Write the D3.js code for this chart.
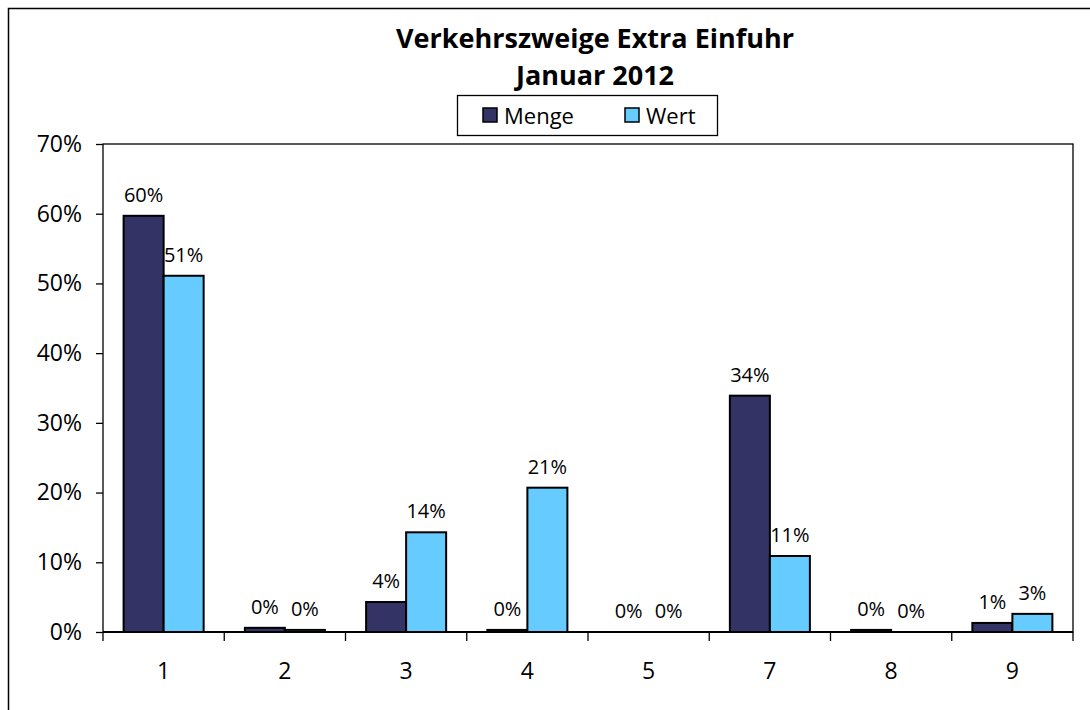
<!DOCTYPE html>
<html>
  <head>
    <script type="text/javascript" src="https://cdn.jsdelivr.net/npm/d3@7"></script>
    <style>
      body {
        margin: 0;
        background: #fff;
      }
      .chart text {
        font-family: 'Open Sans', 'Noto Sans', sans-serif;
        fill: #000;
      }
      .axis path,
      .axis line {
        fill: none;
        stroke: #000;
        stroke-width: 1.3px;
      }
      .axis text {
        font-size: 23px;
      }
      .bar {
        stroke: #000;
        stroke-width: 2px;
      }
      .lbl {
        font-size: 20px;
      }
    </style>
  </head>
  <body>
    <svg class="chart"></svg>

    <script type="text/javascript">
      // data
      var categories = ['1', '2', '3', '4', '5', '7', '8', '9'];
      var seriesNames = ['Menge', 'Wert'];
      var menge = [59.7, 0.6, 4.3, 0.3, 0, 33.9, 0.3, 1.3];
      var wert = [51.1, 0.3, 14.3, 20.7, 0, 10.9, 0, 2.6];
      var mengeLabels = ['60%', '0%', '4%', '0%', '0%', '34%', '0%', '1%'];
      var wertLabels = ['51%', '0%', '14%', '21%', '0%', '11%', '0%', '3%'];
      var yTicks = [0, 10, 20, 30, 40, 50, 60, 70];
      var titleLines = ['Verkehrszweige Extra Einfuhr', 'Januar 2012'];
      var colors = ['#333366', '#66ccff'];

      var svgWidth = 1090,
        svgHeight = 710;
      var margin = { left: 103, top: 144, right: 17, bottom: 78 };
      var width = svgWidth - margin.left - margin.right;
      var height = svgHeight - margin.top - margin.bottom;

      var svg = d3
        .select('svg')
        .attr('width', svgWidth)
        .attr('height', svgHeight);

      // outer frame (runs off the bottom/right edge)
      svg
        .append('rect')
        .attr('x', 8.5)
        .attr('y', 8.5)
        .attr('width', svgWidth + 20)
        .attr('height', svgHeight + 20)
        .attr('fill', 'none')
        .attr('stroke', '#000')
        .attr('stroke-width', 1.5);

      var g = svg
        .append('g')
        .attr('transform', 'translate(' + margin.left + ',' + margin.top + ')');

      var x0 = d3.scaleBand().domain(categories).range([0, width]);
      var x1 = d3
        .scaleBand()
        .domain(seriesNames)
        .range([x0.bandwidth() * 0.17, x0.bandwidth() * 0.83]);
      var y = d3.scaleLinear().domain([0, 70]).range([height, 0]);

      // plot area border
      g.append('rect')
        .attr('width', width)
        .attr('height', height)
        .attr('fill', 'none')
        .attr('stroke', '#000')
        .attr('stroke-width', 1.3);

      // y axis
      g.append('g')
        .attr('class', 'axis')
        .call(
          d3
            .axisLeft(y)
            .tickValues(yTicks)
            .tickSize(7)
            .tickPadding(14)
            .tickFormat(function (d) {
              return d + '%';
            })
        )
        .call(function (a) {
          a.select('.domain').remove();
        });

      // x axis: ticks between categories
      var xAxis = g
        .append('g')
        .attr('class', 'axis')
        .attr('transform', 'translate(0,' + height + ')')
        .call(d3.axisBottom(x0).tickSize(0).tickPadding(31));
      xAxis.select('.domain').remove();
      xAxis
        .selectAll('.sep')
        .data(categories.concat(['end']))
        .enter()
        .append('line')
        .attr('x1', function (d, i) {
          return i * x0.step();
        })
        .attr('x2', function (d, i) {
          return i * x0.step();
        })
        .attr('y1', 0)
        .attr('y2', 9);

      var rows = categories.map(function (c, i) {
        return {
          cat: c,
          vals: [
            { s: 'Menge', v: menge[i], l: mengeLabels[i], c: colors[0] },
            { s: 'Wert', v: wert[i], l: wertLabels[i], c: colors[1] },
          ],
        };
      });

      var grp = g
        .selectAll('.grp')
        .data(rows)
        .enter()
        .append('g')
        .attr('class', 'grp')
        .attr('transform', function (d) {
          return 'translate(' + x0(d.cat) + ',0)';
        });

      grp
        .selectAll('rect')
        .data(function (d) {
          return d.vals.filter(function (v) {
            return v.v > 0;
          });
        })
        .enter()
        .append('rect')
        .attr('class', 'bar')
        .attr('x', function (d) {
          return x1(d.s);
        })
        .attr('y', function (d) {
          return y(d.v);
        })
        .attr('width', x1.bandwidth())
        .attr('height', function (d) {
          return height - y(d.v);
        })
        .attr('fill', function (d) {
          return d.c;
        });

      grp
        .selectAll('.lbl')
        .data(function (d) {
          return d.vals;
        })
        .enter()
        .append('text')
        .attr('class', 'lbl')
        .attr('text-anchor', 'middle')
        .attr('x', function (d) {
          return x1(d.s) + x1.bandwidth() / 2;
        })
        .attr('y', function (d) {
          return y(d.v) - 14;
        })
        .text(function (d) {
          return d.l;
        });

      // x axis baseline over the bars
      g.append('line')
        .attr('x1', 0)
        .attr('x2', width)
        .attr('y1', height)
        .attr('y2', height)
        .attr('stroke', '#000')
        .attr('stroke-width', 2);

      // title
      svg
        .selectAll('.title')
        .data(titleLines)
        .enter()
        .append('text')
        .attr('class', 'title')
        .attr('x', 595)
        .attr('y', function (d, i) {
          return 48 + i * 37;
        })
        .attr('text-anchor', 'middle')
        .style('font-size', '27px')
        .style('font-weight', 'bold')
        .text(function (d) {
          return d;
        });

      // legend
      var legend = svg.append('g').attr('transform', 'translate(457,95)');
      legend
        .append('rect')
        .attr('x', 0.5)
        .attr('y', 0.5)
        .attr('width', 260)
        .attr('height', 40)
        .attr('fill', '#fff')
        .attr('stroke', '#000')
        .attr('stroke-width', 1.3);
      var item = legend
        .selectAll('.item')
        .data(seriesNames)
        .enter()
        .append('g')
        .attr('transform', function (d, i) {
          return 'translate(' + (26 + i * 142) + ',0)';
        });
      item
        .append('rect')
        .attr('y', 13)
        .attr('width', 14)
        .attr('height', 14)
        .attr('fill', function (d, i) {
          return colors[i];
        })
        .attr('stroke', '#000')
        .attr('stroke-width', 1.5);
      item
        .append('text')
        .attr('x', 21)
        .attr('y', 29)
        .style('font-size', '22px')
        .text(function (d) {
          return d;
        });
    </script>
  </body>
</html>
